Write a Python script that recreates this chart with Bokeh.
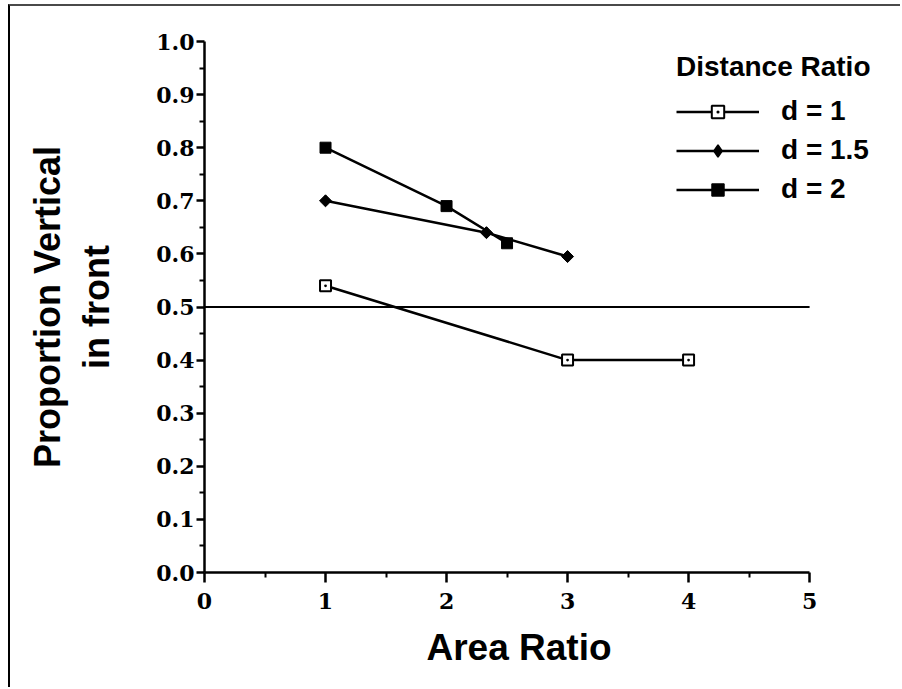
from bokeh.plotting import figure
from bokeh.models import FixedTicker, Legend, LegendItem, Range1d, Title
from bokeh.embed import file_html
from bokeh.resources import INLINE

# ---- data ----
x_d1 = [1, 3, 4]
y_d1 = [0.54, 0.40, 0.40]
x_d15 = [1, 2.33, 3]
y_d15 = [0.70, 0.64, 0.595]
x_d2 = [1, 2, 2.5]
y_d2 = [0.80, 0.69, 0.62]
series_names = ["d = 1", "d = 1.5", "d = 2"]
x_ticks = [0, 1, 2, 3, 4, 5]
x_minor = [0.5, 1.5, 2.5, 3.5, 4.5]
y_ticks = [0.0, 0.1, 0.2, 0.3, 0.4, 0.5, 0.6, 0.7, 0.8, 0.9, 1.0]
y_minor = [0.05, 0.15, 0.25, 0.35, 0.45, 0.55, 0.65, 0.75, 0.85, 0.95]
y_tick_labels = ["0.0", "0.1", "0.2", "0.3", "0.4", "0.5", "0.6", "0.7", "0.8", "0.9", "1.0"]
x_tick_labels = ["0", "1", "2", "3", "4", "5"]
reference_level = 0.5

W, H = 892, 683
p = figure(width=W, height=H, output_backend="svg", toolbar_location=None,
           x_range=Range1d(0, 5.71), y_range=Range1d(0, 1.0),
           min_border_left=194, min_border_right=7,
           min_border_top=35, min_border_bottom=H - 35 - 531)
p.styles = {"border-top": "2px solid #4a4a4a", "border-left": "2px solid black",
            "margin-top": "4px", "margin-left": "8px"}
p.outline_line_color = None
p.grid.visible = False
p.background_fill_color = "white"
p.border_fill_color = "white"

serif = "DejaVu Serif"
sans = "Liberation Sans"

for ax in (p.xaxis[0], p.yaxis[0]):
    ax.axis_line_width = 2.5
    ax.major_tick_line_width = 2.5
    ax.minor_tick_line_width = 2
    ax.major_tick_in = 0
    ax.minor_tick_in = 0
    ax.minor_tick_out = 5
    ax.major_label_text_font = serif
    ax.major_label_text_font_style = "bold"
    ax.major_label_text_font_size = "22px"
    ax.major_label_text_color = "black"
    ax.axis_label_text_font = sans
    ax.axis_label_text_font_style = "bold"
    ax.axis_label_text_font_size = "36px"
    ax.axis_label_text_color = "black"

p.xaxis.ticker = FixedTicker(ticks=x_ticks, minor_ticks=x_minor)
p.xaxis.major_label_overrides = {t: l for t, l in zip(x_ticks, x_tick_labels)}
p.xaxis.major_tick_out = 10
p.xaxis.major_label_standoff = 10
p.xaxis.bounds = (x_ticks[0], x_ticks[-1])

p.yaxis.ticker = FixedTicker(ticks=y_ticks, minor_ticks=y_minor)
p.yaxis.major_label_overrides = {t: l for t, l in zip(y_ticks, y_tick_labels)}
p.yaxis.major_tick_out = 8
p.yaxis.major_label_standoff = 2
p.yaxis.bounds = (y_ticks[0], y_ticks[-1])
p.yaxis.axis_label = "Proportion Vertical\nin front"
p.yaxis.axis_label_standoff = 36

# x-axis title, placed under the axis extent
p.add_layout(Title(text="Area Ratio", align="left", offset=222,
                   text_font=sans, text_font_style="bold",
                   text_font_size="37px", text_color="black",
                   standoff=27), "below")

# reference line across the axis extent
p.segment(x0=[x_ticks[0]], y0=[reference_level], x1=[x_ticks[-1]],
          y1=[reference_level], line_color="black", line_width=2)

# series
l1 = p.line(x_d1, y_d1, line_color="black", line_width=2.5)
m1 = p.scatter(x_d1, y_d1, marker="square_dot", size=11, fill_color="white",
               line_color="black", line_width=2)
l2 = p.line(x_d15, y_d15, line_color="black", line_width=2.5)
# diamond key used by the legend (legend keys ignore marker angle); covered by m2
k2 = p.scatter(x_d15, y_d15, marker="diamond", size=10, fill_color="black",
               line_color="black", line_width=1.5)
m2 = p.scatter(x_d15, y_d15, marker="square", angle=0.7854, size=8.5,
               fill_color="black", line_color="black", line_width=1)
l3 = p.line(x_d2, y_d2, line_color="black", line_width=2.5)
m3 = p.scatter(x_d2, y_d2, marker="square", size=11, fill_color="black",
               line_color="black", line_width=1)

legend = Legend(items=[LegendItem(label=series_names[0], renderers=[l1, m1]),
                       LegendItem(label=series_names[1], renderers=[l2, k2]),
                       LegendItem(label=series_names[2], renderers=[l3, m3])],
                location=(472, 367), title="Distance Ratio",
                title_text_font=sans, title_text_font_style="bold",
                title_text_font_size="28px", title_standoff=12,
                title_text_color="black",
                label_text_font=sans, label_text_font_style="bold",
                label_text_font_size="28px", label_standoff=22,
                label_text_color="black",
                glyph_width=83, glyph_height=31, label_height=31,
                spacing=7, padding=0, margin=0,
                border_line_color=None, background_fill_alpha=0)
p.add_layout(legend)

open("out.html", "w").write(file_html(p, INLINE))
